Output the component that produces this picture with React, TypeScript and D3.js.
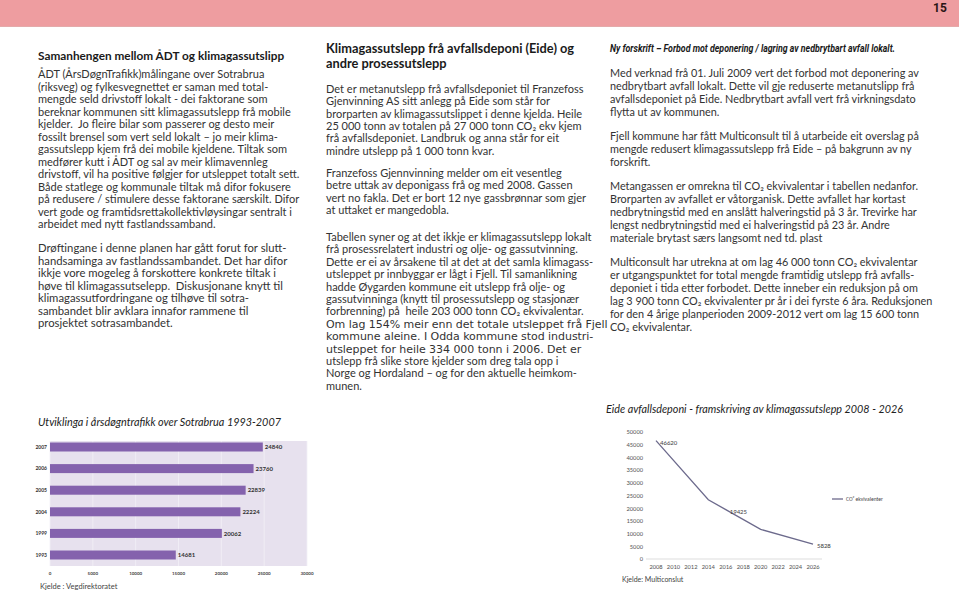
import React from "react";
import * as d3 from "d3";

// ---------- Data ----------
const barYears = ["2007", "2006", "2005", "2004", "1999", "1993"];
const barValues = [24840, 23760, 22839, 22224, 20062, 14681];
const barTicks = [0, 5000, 10000, 15000, 20000, 25000, 30000];

const lineYears = [2008, 2014, 2016, 2020, 2026];
const lineValues = [46620, 23310, 19425, 11655, 5828];
const lineLabelled = [true, false, true, false, true];
const lineXTicks = [2008, 2010, 2012, 2014, 2016, 2018, 2020, 2022, 2024, 2026];
const lineYTicks = [0, 5000, 10000, 15000, 20000, 25000, 30000, 35000, 40000, 45000, 50000];

// ---------- Text ----------
const col1Title = "Samanhengen mellom ÅDT og klimagassutslipp";
const col1P1 = [
  "ÅDT (ÅrsDøgnTrafikk)målingane over Sotrabrua",
  "(riksveg) og fylkesvegnettet er saman med total-",
  "mengde seld drivstoff lokalt - dei faktorane som",
  "bereknar kommunen sitt klimagassutslepp frå mobile",
  "kjelder.  Jo fleire bilar som passerer og desto meir",
  "fossilt brensel som vert seld lokalt – jo meir klima-",
  "gassutslepp kjem frå dei mobile kjeldene. Tiltak som",
  "medfører kutt i ÅDT og sal av meir klimavennleg",
  "drivstoff, vil ha positive følgjer for utsleppet totalt sett.",
  "Både statlege og kommunale tiltak må difor fokusere",
  "på redusere / stimulere desse faktorane særskilt. Difor",
  "vert gode og framtidsrettakollektivløysingar sentralt i",
  "arbeidet med nytt fastlandssamband.",
];
const col1P2 = [
  "Drøftingane i denne planen har gått forut for slutt-",
  "handsaminga av fastlandssambandet. Det har difor",
  "ikkje vore mogeleg å forskottere konkrete tiltak i",
  "høve til klimagassutselepp.  Diskusjonane knytt til",
  "klimagassutfordringane og tilhøve til sotra-",
  "sambandet blir avklara innafor rammene til",
  "prosjektet sotrasambandet.",
];
const col2Title = ["Klimagassutslepp frå avfallsdeponi (Eide) og", "andre prosessutslepp"];
const col2P1 = [
  "Det er metanutslepp frå avfallsdeponiet til Franzefoss",
  "Gjenvinning AS sitt anlegg på Eide som står for",
  "brorparten av klimagassutslippet i denne kjelda. Heile",
  "25 000 tonn av totalen på 27 000 tonn CO₂ ekv kjem",
  "frå avfallsdeponiet. Landbruk og anna står for eit",
  "mindre utslepp på 1 000 tonn kvar.",
];
const col2P2 = [
  "Franzefoss Gjennvinning melder om eit vesentleg",
  "betre uttak av deponigass frå og med 2008. Gassen",
  "vert no fakla. Det er bort 12 nye gassbrønnar som gjer",
  "at uttaket er mangedobla.",
];
const col2P3 = [
  "Tabellen syner og at det ikkje er klimagassutslepp lokalt",
  "frå prosessrelatert industri og olje- og gassutvinning.",
  "Dette er ei av årsakene til at det at det samla klimagass-",
  "utsleppet pr innbyggar er lågt i Fjell. Til samanlikning",
  "hadde Øygarden kommune eit utslepp frå olje- og",
  "gassutvinninga (knytt til prosessutslepp og stasjonær",
  "forbrenning) på  heile 203 000 tonn CO₂ ekvivalentar.",
  "Om lag 154% meir enn det totale utsleppet frå Fjell",
  "kommune aleine. I Odda kommune stod industri-",
  "utsleppet for heile 334 000 tonn i 2006. Det er",
  "utslepp frå slike store kjelder som dreg tala opp i",
  "Norge og Hordaland – og for den aktuelle heimkom-",
  "munen.",
];
const col2Wide = [7, 8, 9];
const col3Title = "Ny forskrift – Forbod mot deponering / lagring av nedbrytbart avfall lokalt.";
const col3P1 = [
  "Med verknad frå 01. Juli 2009 vert det forbod mot deponering av",
  "nedbrytbart avfall lokalt. Dette vil gje reduserte metanutslipp frå",
  "avfallsdeponiet på Eide. Nedbrytbart avfall vert frå virkningsdato",
  "flytta ut av kommunen.",
];
const col3P2 = [
  "Fjell kommune har fått Multiconsult til å utarbeide eit overslag på",
  "mengde redusert klimagassutslepp frå Eide – på bakgrunn av ny",
  "forskrift.",
];
const col3P3 = [
  "Metangassen er omrekna til CO₂ ekvivalentar i tabellen nedanfor.",
  "Brorparten av avfallet er våtorganisk. Dette avfallet har kortast",
  "nedbrytningstid med en anslått halveringstid på 3 år. Trevirke har",
  "lengst nedbrytningstid med ei halveringstid på 23 år. Andre",
  "materiale brytast særs langsomt ned td. plast",
];
const col3P4 = [
  "Multiconsult har utrekna at om lag 46 000 tonn CO₂ ekvivalentar",
  "er utgangspunktet for total mengde framtidig utslepp frå avfalls-",
  "deponiet i tida etter forbodet. Dette inneber ein reduksjon på om",
  "lag 3 900 tonn CO₂ ekvivalenter pr år i dei fyrste 6 åra. Reduksjonen",
  "for den 4 årige planperioden 2009-2012 vert om lag 15 600 tonn",
  "CO₂ ekvivalentar.",
];

const BODY_FONT = "Lato, 'Open Sans', sans-serif";
const TEXT_COLOR = "#333";

function Para({ lines, x, y, lh, size, wide }: { lines: string[]; x: number; y: number; lh: number; size: number; wide?: number[] }) {
  return (
    <g>
      {lines.map((l, i) => (
        <text
          key={i}
          x={x}
          y={y + i * lh}
          fontSize={size}
          fontFamily={wide && wide.includes(i) ? "'DejaVu Sans', sans-serif" : BODY_FONT}
          letterSpacing={wide && wide.includes(i) ? -0.05 : 0}
          fill={TEXT_COLOR}
          style={{ whiteSpace: "pre" }}
        >
          {l}
        </text>
      ))}
    </g>
  );
}

function BarChart() {
  const x = d3.scaleLinear().domain([0, 30000]).range([50, 307]);
  const y = d3.scalePoint<string>().domain(barYears).range([447, 555]);
  const barH = 9;
  return (
    <g>
      <text x={38} y={426} fontSize={12} fontStyle="italic" fontFamily={BODY_FONT} fill="#222" textLength={243} lengthAdjust="spacingAndGlyphs">
        Utviklinga i årsdøgntrafikk over Sotrabrua 1993-2007
      </text>
      <rect x={x(0)} y={441} width={x(30000) - x(0)} height={125} fill="#e7e1ee" />
      {barTicks.map((t) => (
        <line key={t} x1={x(t)} x2={x(t)} y1={441} y2={566} stroke="#f3f0f6" strokeWidth={0.8} />
      ))}
      {barYears.map((yr, i) => (
        <g key={yr}>
          <rect x={x(0)} y={(y(yr) as number) - barH / 2} width={x(barValues[i]) - x(0)} height={barH} fill="#8462ad" />
          <text x={x(barValues[i]) + 2} y={(y(yr) as number) + 2.2} fontSize={6} fontWeight="bold" fontFamily={BODY_FONT} fill="#333">
            {barValues[i]}
          </text>
          <text x={47} y={(y(yr) as number) + 1.8} fontSize={5} fontWeight="bold" fontFamily={BODY_FONT} fill="#333" textAnchor="end">
            {yr}
          </text>
        </g>
      ))}
      {barTicks.map((t) => (
        <text key={t} x={x(t)} y={575} fontSize={4.5} fontWeight="bold" fontFamily={BODY_FONT} fill="#444" textAnchor="middle">
          {t}
        </text>
      ))}
      <text x={40} y={589} fontSize={7.5} fontFamily={BODY_FONT} fill="#444">
        Kjelde : Vegdirektoratet
      </text>
    </g>
  );
}

function LineChart() {
  const x = d3.scaleLinear().domain([2008, 2026]).range([656, 813]);
  const y = d3.scaleLinear().domain([0, 50000]).range([559, 432]);
  const line = d3
    .line<number>()
    .x((_, i) => x(lineYears[i]))
    .y((d) => y(d));
  const font = "Calibri, Carlito, 'Liberation Sans', sans-serif";
  return (
    <g>
      <text x={606} y={413} fontSize={12} fontStyle="italic" fontFamily={BODY_FONT} fill="#222" textLength={297} lengthAdjust="spacingAndGlyphs">
        Eide avfallsdeponi - framskriving av klimagassutslepp 2008 - 2026
      </text>
      <line x1={646} x2={822} y1={y(0)} y2={y(0)} stroke="#d4d4d4" strokeWidth={0.8} />
      {lineYTicks.map((t) => (
        <text key={t} x={643} y={y(t) + 2.3} fontSize={6.5} fontFamily={font} fill="#555" textAnchor="end">
          {t}
        </text>
      ))}
      {lineXTicks.map((t) => (
        <text key={t} x={x(t)} y={569} fontSize={6.5} fontFamily={font} fill="#555" textAnchor="middle">
          {t}
        </text>
      ))}
      <path d={line(lineValues) || ""} fill="none" stroke="#6c6a8c" strokeWidth={1.3} />
      {lineValues.map((v, i) =>
        lineLabelled[i] ? (
          <text key={i} x={x(lineYears[i]) + 4} y={y(v) + 4} fontSize={6.8} fontFamily={font} fill="#444">
            {v}
          </text>
        ) : null
      )}
      <line x1={832} x2={843} y1={499} y2={499} stroke="#6c6a8c" strokeWidth={1.3} />
      <text x={846} y={501} fontSize={5.5} fontFamily={font} fill="#444">
        CO² ekvivalenter
      </text>
      <text x={622} y={582} fontSize={7} fontFamily={BODY_FONT} fill="#444">
        Kjelde: Multiconslut
      </text>
    </g>
  );
}

export default function App() {
  return (
    <svg width={959} height={591} style={{ position: "absolute", left: 0, top: 0, background: "#fff" }}>
      <rect x={0} y={0} width={959} height={26} fill="#ee9da0" />
      <rect x={0} y={26} width={959} height={1} fill="#e4aaaa" />
      <text x={940} y={12} fontSize={12} fontWeight="bold" fontFamily="'Liberation Sans Narrow', 'Roboto', sans-serif" fill="#2a1616" textAnchor="middle">
        15
      </text>

      {/* Column 1 */}
      <text x={38} y={60} fontSize={11.8} fontWeight="bold" fontFamily={BODY_FONT} fill="#1a1a1a">
        {col1Title}
      </text>
      <Para lines={col1P1} x={38} y={78} lh={12.5} size={11} />
      <Para lines={col1P2} x={38} y={252} lh={12.5} size={11.3} />

      {/* Column 2 */}
      {col2Title.map((t, i) => (
        <text key={i} x={326} y={53 + i * 15} fontSize={12.8} fontWeight="bold" fontFamily={BODY_FONT} fill="#1a1a1a">
          {t}
        </text>
      ))}
      <Para lines={col2P1} x={326} y={93} lh={12.3} size={11} />
      <Para lines={col2P2} x={326} y={177} lh={12.4} size={11} />
      <Para lines={col2P3} x={326} y={241} lh={12.4} size={11} wide={col2Wide} />

      {/* Column 3 */}
      <text x={610} y={52} fontSize={10} fontWeight="bold" fontStyle="italic" fontFamily="'Liberation Sans Narrow', Roboto, sans-serif" fill="#1a1a1a" textLength={285} lengthAdjust="spacingAndGlyphs">
        {col3Title}
      </text>
      <Para lines={col3P1} x={610} y={77} lh={12.9} size={10.85} />
      <Para lines={col3P2} x={610} y={140} lh={12.9} size={10.85} />
      <Para lines={col3P3} x={610} y={190} lh={12.9} size={10.85} />
      <Para lines={col3P4} x={610} y={266} lh={12.9} size={10.85} />

      <BarChart />
      <LineChart />
    </svg>
  );
}
